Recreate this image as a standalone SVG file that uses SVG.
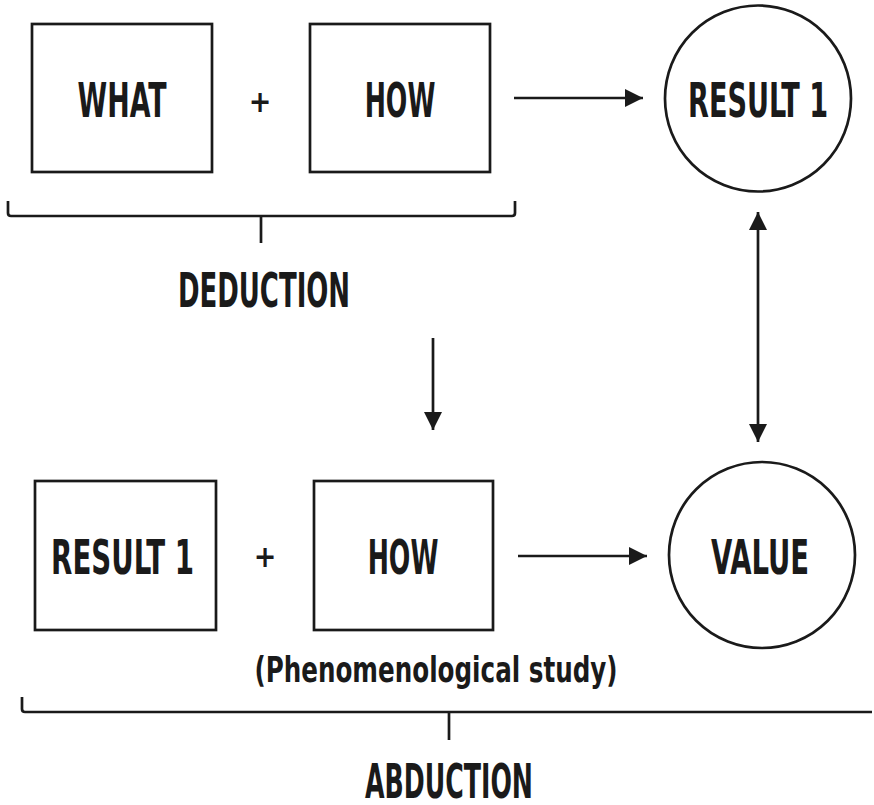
<svg xmlns="http://www.w3.org/2000/svg" width="874" height="805" viewBox="0 0 874 805">
<defs>
<style>
.box{fill:#fff;stroke:#1a1a1a;stroke-width:2.7}
.ln{fill:none;stroke:#1a1a1a;stroke-width:2.7}
.t{font-family:"Liberation Sans Narrow","DejaVu Sans Condensed","Liberation Sans",sans-serif;font-weight:bold;font-stretch:condensed;fill:#1a1a1a;text-anchor:middle}
.big{font-size:48px}
.plus{font-size:30px}
.small{font-size:36px}
</style>
<marker id="ah" viewBox="0 0 18 18" refX="18" refY="9" markerWidth="18" markerHeight="18" markerUnits="userSpaceOnUse" orient="auto-start-reverse">
<path d="M0,0 L18,9 L0,18 Z" fill="#1a1a1a"/>
</marker>
</defs>
<rect width="874" height="805" fill="#fff"/>
<g id="what">
<rect class="box" x="32" y="24" width="180" height="148"/>
<text class="t big" transform="translate(122,117) scale(0.7,1)" textLength="127" lengthAdjust="spacingAndGlyphs">WHAT</text>
</g>
<g id="plus1"><text class="t plus" x="260" y="112">+</text></g>
<g id="how1">
<rect class="box" x="310" y="24" width="180" height="148"/>
<text class="t big" transform="translate(400,117) scale(0.7,1)" textLength="101" lengthAdjust="spacingAndGlyphs">HOW</text>
</g>
<g id="result1-circle">
<circle class="box" cx="758" cy="98.5" r="93"/>
<text class="t big" transform="translate(758,117) scale(0.7,1)" textLength="200" lengthAdjust="spacingAndGlyphs">RESULT 1</text>
</g>
<g id="deduction">
<path class="ln" d="M8,201 V213 Q8,216 11,216 H512 Q515,216 515,213 V201"/>
<path class="ln" d="M261,216 V243"/>
<text class="t big" transform="translate(264,307) scale(0.7,1)" textLength="246" lengthAdjust="spacingAndGlyphs">DEDUCTION</text>
</g>
<g id="result1-box">
<rect class="box" x="35" y="481" width="181" height="149"/>
<text class="t big" transform="translate(122.5,574) scale(0.7,1)" textLength="204" lengthAdjust="spacingAndGlyphs">RESULT 1</text>
</g>
<g id="plus2"><text class="t plus" x="265" y="567">+</text></g>
<g id="how2">
<rect class="box" x="314" y="481" width="179" height="149"/>
<text class="t big" transform="translate(403,574) scale(0.7,1)" textLength="101" lengthAdjust="spacingAndGlyphs">HOW</text>
<text class="t small" transform="translate(436,682) scale(0.8,1)" textLength="454" lengthAdjust="spacingAndGlyphs">(Phenomenological study)</text>
</g>
<g id="value">
<circle class="box" cx="762" cy="555" r="93"/>
<text class="t big" transform="translate(760,574) scale(0.7,1)" textLength="140" lengthAdjust="spacingAndGlyphs">VALUE</text>
</g>
<g id="abduction">
<path class="ln" d="M22,697 V709 Q22,712 25,712 H872"/>
<path class="ln" d="M449,712 V740"/>
<text class="t big" transform="translate(449,798) scale(0.7,1)" textLength="240" lengthAdjust="spacingAndGlyphs">ABDUCTION</text>
</g>
<g id="connectors">
<line class="ln" x1="514" y1="98" x2="643" y2="98" marker-end="url(#ah)"/>
<line class="ln" x1="433" y1="338" x2="433" y2="430" marker-end="url(#ah)"/>
<line class="ln" x1="758" y1="212" x2="758" y2="442" marker-start="url(#ah)" marker-end="url(#ah)"/>
<line class="ln" x1="518" y1="556" x2="647" y2="556" marker-end="url(#ah)"/>
</g>
</svg>
